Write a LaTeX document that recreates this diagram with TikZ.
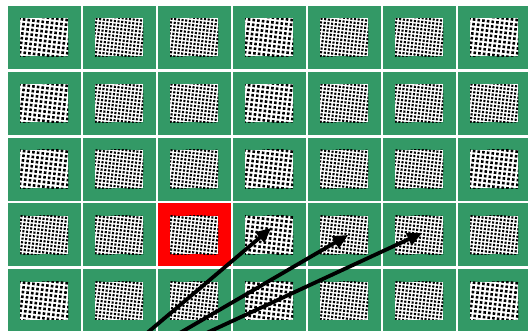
\documentclass[tikz,border=0pt]{standalone}
\usetikzlibrary{arrows.meta}
\definecolor{fieldgreen}{RGB}{51,153,102}
\begin{document}
\begin{tikzpicture}[x=1pt,y=1pt,
  cell/.style={fill=fieldgreen,minimum width=72.5pt,minimum height=63pt,inner sep=0pt},
  target/.style={cell,fill=red},
  texture/.style={fill=white,minimum width=48pt,minimum height=38pt,inner sep=0pt},
  move/.style={line width=3.8pt,-{Triangle[length=15pt,width=13pt]}}]
\useasboundingbox (0,0) rectangle (528,330);
\clip (0,0) rectangle (528,330);
% 7x5 field of patches; row 4, column 3 is the marked one
% c = coarse dots, f = fine dots
\foreach \r/\kinds in {1/{c,f,f,c,f,f,c},2/{c,f,f,c,f,f,f},3/{c,f,f,c,f,f,c},4/{f,f,f,c,f,f,f},5/{c,f,f,c,f,f,c}}{
  \foreach \k [count=\c] in \kinds {
    \pgfmathsetmacro\cx{44.25+75*(\c-1)}
    \pgfmathsetmacro\cy{292.5-65.8*(\r-1)}
    \ifnum\r\c=43 \def\look{target}\else\def\look{cell}\fi
    \if\k c\def\gap{4.7}\def\sq{2.6}\def\lim{7}\else\def\gap{3.7}\def\sq{2.1}\def\lim{9}\fi
    \node[\look] (c-\r-\c) at (\cx,\cy) {};
    \node[texture] (t-\r-\c) at (c-\r-\c) {};
    \begin{scope}
      \clip (t-\r-\c.south west) rectangle (t-\r-\c.north east);
      \begin{scope}[shift={(\cx,\cy)},rotate=-7]
        \foreach \i in {-\lim,...,\lim}{\foreach \j in {-\lim,...,\lim}{
          \fill (\i*\gap,\j*\gap) rectangle ++(\sq,\sq);}}
      \end{scope}
    \end{scope}
  }
}
% saccades from below the field
\coordinate (src) at (75,-64);
\draw[move] (src) -- ([shift={(2,7)}]c-4-4.center);
\draw[move] (src) -- ([shift={(4,0)}]c-4-5.center);
\draw[move] (src) -- ([shift={(3,2)}]c-4-6.center);
\end{tikzpicture}
\end{document}
